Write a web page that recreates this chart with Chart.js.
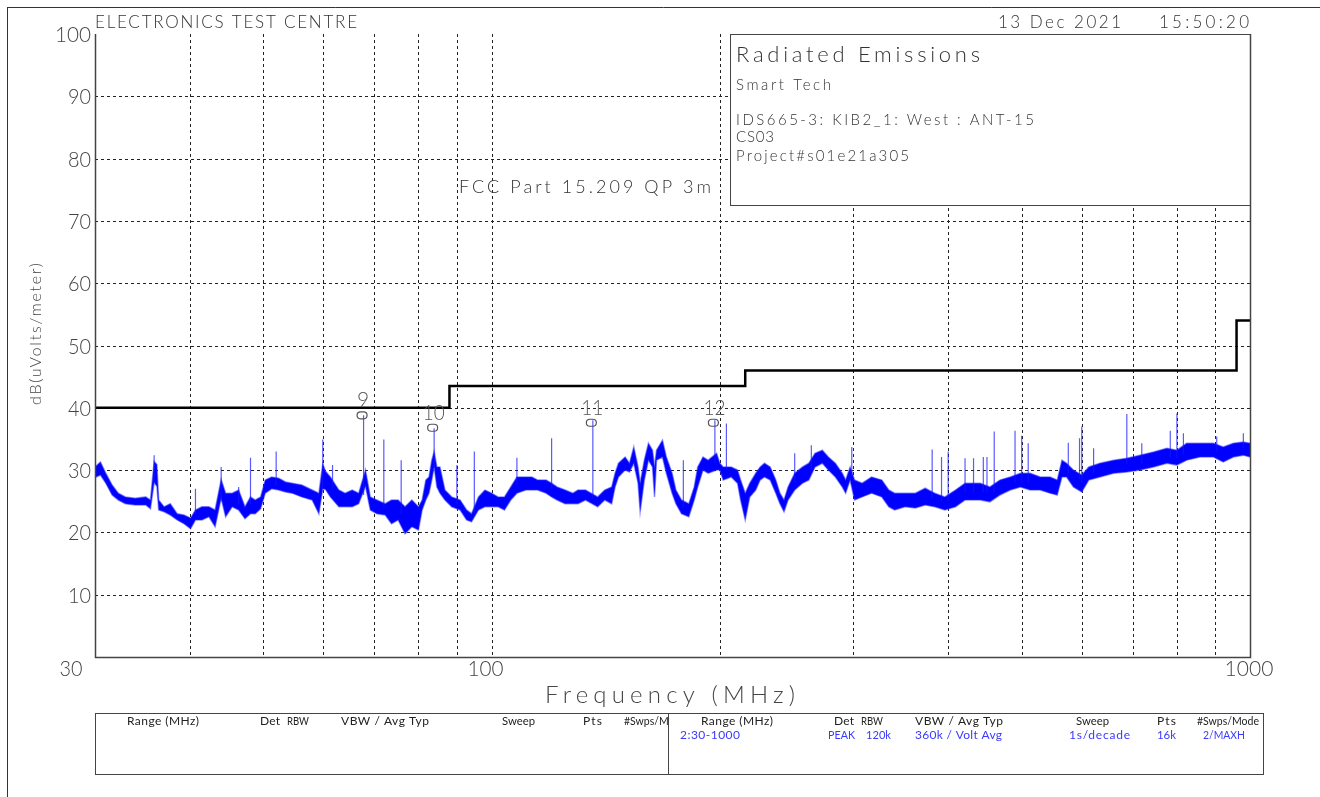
<!DOCTYPE html>
<html><head><meta charset="utf-8">
<script src="https://cdn.jsdelivr.net/npm/chart.js@4/dist/chart.umd.min.js"></script>
<style>html,body{margin:0;padding:0;background:#fff;}canvas{display:block;}</style>
</head><body>
<canvas id="c" width="1320" height="797"></canvas>
<script>
// ---- measured emission trace (band of the max-hold sweep): frequency MHz, low / high dBuV/m
const bandFreq = [30.0,30.5,31.0,31.6,32.2,32.9,33.9,35.0,35.5,35.9,
  36.2,36.4,37.0,37.7,38.5,39.3,40.1,40.7,41.5,42.4,
  43.2,44.0,44.6,45.5,46.4,47.3,48.1,48.8,49.6,50.3,
  51.3,52.4,53.5,54.6,56.2,58.0,59.2,59.9,60.4,61.3,
  62.9,64.1,65.5,66.8,68.2,69.2,70.6,72.4,73.8,75.3,
  76.9,78.5,80.1,81.0,81.9,82.7,83.4,84.0,84.7,85.5,
  86.8,88.6,90.9,92.7,94.1,96.1,98.0,100,102,104,
  106,108,111,113,115,118,120,122,125,128,
  130,133,138,141,144,145.5,147,150,152,154,
  156,157,159,161,163,164,165,168,170,173,
  175,178,182,185,187,190,193,198,200,202,
  207,211,213,216,219,223,226,229,233,237,
  240,243,246,251,257,262,267,273,278,284,
  290,293,297,301,308,317,327,334,340,351,
  362,373,384,396,409,421,428,441,454,468,
  483,498,513,529,545,557,565,573,585,600,
  613,634,661,688,716,746,777,801,825,859,
  895,922,951,980,1000];
const bandLow = [28.8,29.2,27.9,26.0,25.2,24.6,24.4,24.4,23.8,28.0,
  27.4,23.6,23.3,22.8,22.0,21.4,20.6,22.0,22.0,22.5,
  20.9,25.5,22.5,24.1,23.6,22.2,23.0,23.0,23.8,26.3,
  27.0,26.8,26.5,26.3,25.7,25.2,23.0,27.0,26.9,25.7,
  24.1,24.1,24.1,24.6,27.4,23.6,23.0,22.8,21.4,22.0,
  19.8,20.9,20.4,23.6,25.2,26.3,28.4,30.5,27.3,26.3,
  25.2,24.1,23.6,22.0,21.7,23.6,24.1,24.1,24.1,23.6,
  25.2,26.3,26.8,26.8,26.8,26.3,25.7,25.2,24.6,24.6,
  24.6,25.2,24.1,25.2,24.6,27.3,28.9,30.0,29.7,31.1,
  27.9,23.3,28.4,31.6,30.5,25.7,31.6,32.1,29.5,26.3,
  24.6,23.0,22.5,25.2,27.3,30.0,29.5,30.0,30.0,28.4,
  28.9,27.9,25.2,22.0,25.7,26.8,28.4,28.9,28.4,26.3,
  24.6,23.3,25.2,26.8,27.9,28.4,30.5,31.1,30.0,28.9,
  27.3,26.3,28.4,25.2,25.7,26.3,25.7,24.1,23.6,24.1,
  23.9,24.4,24.1,23.6,24.1,25.2,25.2,25.2,24.9,26.0,
  26.8,27.3,26.8,26.8,26.3,26.0,28.9,28.9,27.3,26.5,
  28.4,28.9,29.5,29.7,30.0,30.5,31.1,30.8,31.6,32.1,
  32.1,31.3,32.1,32.4,32.1];
const bandHigh = [30.5,31.3,29.5,27.6,26.3,25.7,25.5,25.7,25.2,31.4,
  30.9,25.2,24.1,24.6,23.0,22.8,22.3,23.6,24.1,24.1,
  23.6,28.5,26.3,26.3,26.8,24.1,25.7,25.2,25.7,28.4,
  28.9,28.7,28.1,27.9,27.6,26.8,26.3,31.0,29.8,28.9,
  26.8,26.3,26.8,26.3,30.0,25.7,25.2,24.6,25.2,25.2,
  24.1,25.2,24.1,25.2,28.4,28.9,31.6,33.0,30.5,30.5,
  26.8,25.7,25.2,23.6,23.0,25.7,26.8,26.3,25.7,25.7,
  27.3,28.9,28.9,28.9,28.4,28.4,27.9,27.3,26.8,26.3,
  26.8,26.8,25.7,26.8,27.3,29.5,31.1,32.1,31.1,33.7,
  30.5,27.9,31.6,34.3,33.2,30.5,33.2,34.8,32.1,29.5,
  26.8,25.2,24.6,27.3,30.5,32.1,31.6,32.7,31.1,30.5,
  30.5,30.0,28.4,26.3,27.9,29.5,30.5,31.1,30.5,28.4,
  26.3,25.2,27.3,29.5,30.5,31.1,32.7,33.2,32.1,31.1,
  29.5,28.4,30.5,28.4,27.9,28.9,28.4,26.8,26.3,26.3,
  26.3,27.1,26.3,25.7,26.8,27.9,27.9,27.9,27.3,28.4,
  28.9,29.5,29.5,28.9,28.9,28.4,31.6,31.1,30.0,29.2,
  30.5,31.1,31.6,31.9,32.4,32.9,33.5,33.2,34.3,34.3,
  34.3,33.7,34.3,34.5,34.3];
// ---- narrow emissions (spikes): frequency, peak, local floor
const spikeFreq = [35.9,40.7,44.0,46.4,48.1,52.0,59.9,61.7,67.8,72.1,76.0,84.0,90.0,94.9,108,120,136,179,197,204,251,264,298.5,381,392,400,421,432,445,450,460,490,500,510,576,596,600,622,688,720,785,801,817,904,980];
const spikePeak = [32.4,27.0,30.5,27.3,32.0,33.0,34.9,30.8,38.8,34.9,31.6,36.7,30.8,33.0,32.0,35.1,38.0,31.6,38.0,37.5,32.7,34.0,33.7,33.3,32.1,33.0,31.9,31.9,32.1,32.1,36.2,36.3,35.5,34.3,34.4,35.1,37.0,33.5,39.0,34.3,36.3,39.1,35.9,35.4,35.9];
const spikeBase = [28,23,25,24.5,24.5,27.5,27,27,26,24,23,31,24.5,23,27.5,27,25.5,24,31,30,28,30,29,25.5,25,25,26.5,26.5,26.5,26.5,26.5,28,28,28,29.5,28.5,28,29.5,31,31,32,32,32.5,33,33.5];
// ---- FCC Part 15.209 QP 3m limit
const limitFreq = [30, 88, 88, 216, 216, 960, 960, 1000];
const limitLevel = [40, 40, 43.5, 43.5, 46, 46, 54, 54];
// ---- markers
const markerFreq = [67.8, 84.0, 136, 197];
const markerLevel = [38.8, 36.8, 37.6, 37.6];
const markerLabel = ['9', '10', '11', '12'];
// ---- axes
const yTicks = [10, 20, 30, 40, 50, 60, 70, 80, 90, 100];
const yTickLabels = ['10', '20', '30', '40', '50', '60', '70', '80', '90', '100'];
const xGridFreq = [40, 50, 60, 70, 80, 90, 100, 200, 300, 400, 500, 600, 700, 800, 900];
const xTickFreq = [30, 100, 1000];
const xTickLabels = ['30', '100', '1000'];

const FONT = '"Lato", "Open Sans", "DejaVu Sans", sans-serif';
function txt(ctx, s, x, y, size, width, color, align, weight) {
  ctx.save();
  ctx.font = (weight || 300) + ' ' + size + 'px ' + FONT;
  ctx.fillStyle = color || '#333';
  ctx.textBaseline = 'alphabetic';
  ctx.textAlign = 'left';
  ctx.letterSpacing = '0px';
  const w0 = ctx.measureText(s).width;
  let ls = 0, sx = 1;
  if (width) {
    if (width >= w0 && s.length > 1) ls = (width - w0) / (s.length - 1);
    else if (width < w0) sx = width / w0;
  }
  ctx.letterSpacing = ls + 'px';
  const total = width || w0;
  let left = x;
  if (align === 'right') left = x - total;
  else if (align === 'center') left = x - total / 2;
  ctx.translate(left, y);
  ctx.scale(sx, 1);
  ctx.fillText(s, 0, 0);
  ctx.restore();
}
function hline(ctx, x1, x2, y) { ctx.beginPath(); ctx.moveTo(x1, y); ctx.lineTo(x2, y); ctx.stroke(); }
function vline(ctx, x, y1, y2) { ctx.beginPath(); ctx.moveTo(x, y1); ctx.lineTo(x, y2); ctx.stroke(); }
// horizontal offset of x tick labels, by label length (HP plot style)
const xLabelShift = { 2: -24, 3: -6, 4: -1 };

const hpPlugin = {
  id: 'hp',
  beforeDraw(chart) {
    const ctx = chart.ctx, a = chart.chartArea, xs = chart.scales.x, ys = chart.scales.y;
    ctx.save();
    ctx.fillStyle = '#fff';
    ctx.fillRect(0, 0, chart.width, chart.height);
    ctx.strokeStyle = '#333'; ctx.lineWidth = 1;
    hline(ctx, 7, chart.width, 7.5);
    vline(ctx, 7.5, 7, chart.height);
    ctx.strokeStyle = '#222'; ctx.lineWidth = 1; ctx.setLineDash([3, 3]);
    yTicks.forEach(v => { if (v < 100) hline(ctx, a.left, a.right, Math.round(ys.getPixelForValue(v)) + 0.5); });
    xGridFreq.forEach(f => vline(ctx, Math.round(xs.getPixelForValue(f)) + 0.5, a.top, a.bottom));
    ctx.setLineDash([]);
    const bx = 730.5, by = a.top + 0.5, bw = a.right - 730, bh = 171;
    ctx.fillStyle = '#fff'; ctx.fillRect(bx, by, bw, bh);
    ctx.strokeStyle = '#444'; ctx.lineWidth = 1; ctx.strokeRect(bx, by, bw, bh);
    ctx.restore();
  },
  afterDraw(chart) {
    const ctx = chart.ctx, a = chart.chartArea, xs = chart.scales.x, ys = chart.scales.y;
    ctx.save();
    ctx.strokeStyle = '#444'; ctx.lineWidth = 1.5;
    ctx.beginPath();
    ctx.moveTo(a.left + 0.5, a.top); ctx.lineTo(a.left + 0.5, a.bottom + 0.5);
    ctx.lineTo(a.right + 0.5, a.bottom + 0.5); ctx.lineTo(a.right + 0.5, a.top);
    ctx.stroke();
    yTicks.forEach((v, i) => {
      const y = ys.getPixelForValue(v);
      const s = yTickLabels[i];
      txt(ctx, s, 91, y + 8, 21, 13 * s.length - 3, '#444', 'right');
    });
    xTickFreq.forEach((f, i) => {
      const s = xTickLabels[i];
      const x = xs.getPixelForValue(f) + xLabelShift[s.length];
      txt(ctx, s, x, a.bottom + 19, 21, 13 * s.length - 3, '#444', 'center');
    });
    txt(ctx, 'Frequency (MHz)', 545, 703, 24, 250, '#444');
    ctx.save();
    ctx.translate(41, 334); ctx.rotate(-Math.PI / 2);
    txt(ctx, 'dB(uVolts/meter)', 0, 0, 16, 142, '#444', 'center');
    ctx.restore();
    txt(ctx, 'ELECTRONICS TEST CENTRE', 95, 28, 17, 262, '#333');
    txt(ctx, '13 Dec 2021', 998, 28, 17, 123, '#333');
    txt(ctx, '15:50:20', 1159, 28, 17, 90, '#333');
    txt(ctx, 'Radiated Emissions', 736, 62, 22, 244, '#333');
    txt(ctx, 'Smart Tech', 736, 90, 15, 95, '#333');
    txt(ctx, 'IDS665-3: KIB2_1: West : ANT-15', 736, 125, 15, 298, '#333');
    txt(ctx, 'CS03', 736, 142, 15, 38, '#333');
    txt(ctx, 'Project#s01e21a305', 736, 161, 15, 173, '#333');
    txt(ctx, 'FCC Part 15.209 QP 3m', 459, 193, 18, 252, '#333');
    ctx.strokeStyle = '#555'; ctx.lineWidth = 1.2;
    markerFreq.forEach((f, i) => {
      const x = xs.getPixelForValue(f) - 1.5;
      const y = ys.getPixelForValue(markerLevel[i]);
      ctx.beginPath();
      ctx.roundRect(x - 5, y - 3.5, 10, 7, 3.5);
      ctx.stroke();
      const s = markerLabel[i];
      txt(ctx, s, x + 1, y - 8, 21, s.length > 1 ? 22 : 0, '#555', 'center');
    });
    ctx.strokeStyle = '#444'; ctx.lineWidth = 1;
    ctx.strokeRect(95.5, 713.5, 1168, 61);
    vline(ctx, 668.5, 713, 775);
    const hdr = [['Range (MHz)', 127, 72], ['Det', 260, 20], ['RBW', 287, 22], ['VBW / Avg Typ', 341, 88], ['Sweep', 502, 33], ['Pts', 583, 19]];
    hdr.forEach(h => { txt(ctx, h[0], h[1], 725, 12, h[2], '#222', 'left', 400); txt(ctx, h[0], h[1] + 574, 725, 12, h[2], '#222', 'left', 400); });
    ctx.save(); ctx.beginPath(); ctx.rect(600, 710, 68, 20); ctx.clip();
    txt(ctx, '#Swps/Mode', 624, 725, 12, 62, '#222', 'left', 400);
    ctx.restore();
    txt(ctx, '#Swps/Mode', 1197, 725, 12, 62, '#222', 'left', 400);
    const vals = [['2:30-1000', 680, 60], ['PEAK', 828, 27], ['120k', 866, 25], ['360k / Volt Avg', 915, 87], ['1s/decade', 1069, 61], ['16k', 1157, 19], ['2/MAXH', 1203, 42]];
    vals.forEach(v => txt(ctx, v[0], v[1], 739, 12, v[2], '#3a3aff', 'left', 400));
    ctx.restore();
  }
};

const bandLowPts = bandFreq.map((f, i) => ({ x: f, y: bandLow[i] }));
const bandHighPts = bandFreq.map((f, i) => ({ x: f, y: bandHigh[i] }));
const spikePts = [];
spikeFreq.forEach((f, i) => {
  spikePts.push({ x: f, y: spikeBase[i] }, { x: f, y: spikePeak[i] }, { x: f, y: null });
});
const limitPts = limitFreq.map((f, i) => ({ x: f, y: limitLevel[i] }));

new Chart(document.getElementById('c'), {
  type: 'line',
  data: {
    datasets: [
      { label: 'Limit', data: limitPts, borderColor: '#000', borderWidth: 2.5, pointRadius: 0, fill: false },
      { label: 'Spikes', data: spikePts, borderColor: 'rgba(20,20,255,0.7)', borderWidth: 1.2, pointRadius: 0, spanGaps: false, fill: false },
      { label: 'Trace low', data: bandLowPts, borderColor: 'rgba(40,40,255,0.5)', borderWidth: 1.5, pointRadius: 0, fill: false },
      { label: 'Trace high', data: bandHighPts, borderColor: 'rgba(40,40,255,0.5)', borderWidth: 1.5, pointRadius: 0, fill: '-1', backgroundColor: '#0000ff' }
    ]
  },
  options: {
    responsive: false, animation: false, devicePixelRatio: 1,
    layout: { padding: { left: 95, top: 34, right: 70, bottom: 140 } },
    plugins: { legend: { display: false }, tooltip: { enabled: false } },
    elements: { line: { tension: 0 } },
    scales: {
      x: { type: 'logarithmic', min: 30, max: 1000, display: false },
      y: { type: 'linear', min: 0, max: 100, display: false }
    }
  },
  plugins: [hpPlugin]
});
</script>
</body></html>
